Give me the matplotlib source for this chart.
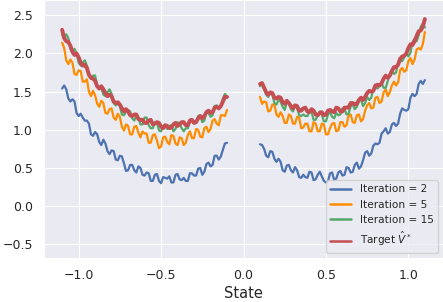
import numpy as np
import matplotlib
matplotlib.use("Agg")
import matplotlib.pyplot as plt
import seaborn as sns

sns.set_style("darkgrid")

# states (two disjoint intervals)
x_left = np.linspace(-1.1, -0.1, 81)
x_right = np.linspace(0.1, 1.1, 81)

# values (noisy curves)
it2_left = [1.54, 1.58, 1.53, 1.41, 1.37, 1.40, 1.37, 1.22, 1.18, 1.21, 1.16, 1.12, 1.12, 1.08,
            0.94, 0.92, 0.97, 0.94, 0.84, 0.80, 0.87, 0.82, 0.72, 0.68, 0.73, 0.72, 0.61, 0.60,
            0.66, 0.65, 0.56, 0.46, 0.47, 0.54, 0.54, 0.47, 0.44, 0.52, 0.50, 0.41, 0.40, 0.44,
            0.43, 0.33, 0.33, 0.41, 0.42, 0.33, 0.30, 0.38, 0.37, 0.36, 0.39, 0.31, 0.31, 0.41,
            0.42, 0.35, 0.34, 0.37, 0.33, 0.33, 0.43, 0.43, 0.40, 0.40, 0.49, 0.50, 0.41, 0.45,
            0.55, 0.57, 0.52, 0.54, 0.66, 0.66, 0.61, 0.65, 0.74, 0.82, 0.83]
it2_right = [0.81, 0.80, 0.75, 0.66, 0.64, 0.72, 0.71, 0.62, 0.58, 0.62, 0.58, 0.47, 0.45, 0.53,
             0.54, 0.47, 0.44, 0.51, 0.47, 0.38, 0.37, 0.41, 0.38, 0.37, 0.45, 0.44, 0.34, 0.35,
             0.41, 0.45, 0.39, 0.33, 0.31, 0.33, 0.43, 0.44, 0.34, 0.36, 0.44, 0.46, 0.40, 0.41,
             0.51, 0.50, 0.44, 0.45, 0.54, 0.57, 0.49, 0.52, 0.60, 0.70, 0.72, 0.66, 0.69, 0.79,
             0.82, 0.81, 0.83, 0.95, 0.98, 1.02, 0.95, 0.97, 1.07, 1.09, 1.05, 1.08, 1.21, 1.28,
             1.26, 1.25, 1.27, 1.42, 1.47, 1.44, 1.47, 1.60, 1.64, 1.60, 1.65]

it5_left = [2.14, 2.07, 1.91, 1.86, 1.92, 1.88, 1.73, 1.72, 1.78, 1.77, 1.63, 1.63, 1.66, 1.50,
            1.44, 1.51, 1.45, 1.34, 1.30, 1.38, 1.35, 1.22, 1.21, 1.27, 1.28, 1.16, 1.13, 1.21,
            1.17, 1.04, 0.99, 1.07, 1.05, 0.94, 0.94, 1.04, 1.05, 0.96, 0.90, 0.98, 0.95, 0.95,
            0.83, 0.83, 0.93, 0.94, 0.86, 0.76, 0.78, 0.90, 0.91, 0.84, 0.81, 0.93, 0.92, 0.82,
            0.80, 0.90, 0.89, 0.80, 0.83, 0.93, 0.98, 0.89, 0.89, 1.01, 1.00, 0.91, 0.90, 1.02,
            1.04, 0.97, 1.01, 1.12, 1.14, 1.08, 1.06, 1.19, 1.19, 1.18, 1.26]
it5_right = [1.43, 1.34, 1.37, 1.36, 1.24, 1.25, 1.33, 1.33, 1.20, 1.17, 1.23, 1.18, 1.09, 1.09,
             1.20, 1.18, 1.08, 1.08, 1.17, 1.16, 1.02, 1.03, 1.08, 1.08, 0.98, 0.98, 1.10, 1.08,
             0.98, 0.98, 1.08, 1.07, 0.94, 0.94, 1.02, 1.08, 1.09, 0.98, 0.99, 1.10, 1.10, 1.04,
             1.06, 1.19, 1.20, 1.10, 1.09, 1.19, 1.20, 1.11, 1.14, 1.25, 1.32, 1.35, 1.28, 1.29,
             1.42, 1.43, 1.35, 1.37, 1.49, 1.53, 1.44, 1.49, 1.58, 1.63, 1.58, 1.62, 1.78, 1.81,
             1.76, 1.78, 1.90, 1.94, 1.86, 1.92, 2.05, 2.07, 2.05, 2.12, 2.28]

it15_left = [2.24, 2.22, 2.25, 2.20, 2.07, 2.01, 2.06, 2.00, 1.88, 1.84, 1.88, 1.91, 1.84, 1.72,
             1.67, 1.71, 1.71, 1.58, 1.56, 1.55, 1.46, 1.44, 1.49, 1.53, 1.47, 1.35, 1.32, 1.34,
             1.31, 1.20, 1.19, 1.24, 1.26, 1.24, 1.15, 1.12, 1.19, 1.16, 1.07, 1.07, 1.16, 1.16,
             1.06, 1.02, 1.02, 1.10, 1.10, 0.99, 0.98, 1.05, 1.06, 1.01, 1.05, 1.06, 0.98, 1.01,
             1.10, 1.08, 1.02, 0.98, 1.02, 1.02, 1.13, 1.14, 1.08, 1.10, 1.18, 1.19, 1.10, 1.12,
             1.23, 1.22, 1.17, 1.19, 1.31, 1.32, 1.28, 1.30, 1.41, 1.47, 1.43]
it15_right = [1.57, 1.62, 1.56, 1.46, 1.43, 1.48, 1.47, 1.35, 1.33, 1.39, 1.37, 1.30, 1.26, 1.36,
              1.35, 1.27, 1.24, 1.31, 1.29, 1.19, 1.18, 1.20, 1.18, 1.18, 1.25, 1.24, 1.13, 1.13,
              1.19, 1.24, 1.20, 1.11, 1.11, 1.20, 1.23, 1.17, 1.15, 1.22, 1.19, 1.20, 1.28, 1.27,
              1.20, 1.21, 1.31, 1.33, 1.27, 1.30, 1.38, 1.40, 1.31, 1.35, 1.43, 1.39, 1.42, 1.54,
              1.56, 1.54, 1.58, 1.61, 1.55, 1.55, 1.64, 1.73, 1.78, 1.73, 1.75, 1.88, 1.90, 1.90,
              1.95, 2.00, 1.96, 2.01, 2.15, 2.19, 2.16, 2.24, 2.35, 2.39, 2.34]

target_left = [2.31, 2.20, 2.16, 2.15, 2.10, 2.02, 1.98, 2.00, 1.95, 1.88, 1.84, 1.85, 1.81, 1.72,
               1.68, 1.67, 1.64, 1.57, 1.54, 1.57, 1.53, 1.48, 1.44, 1.46, 1.44, 1.37, 1.35, 1.36,
               1.33, 1.28, 1.24, 1.27, 1.24, 1.19, 1.18, 1.20, 1.20, 1.14, 1.13, 1.13, 1.09, 1.09,
               1.12, 1.13, 1.07, 1.08, 1.10, 1.09, 1.04, 1.02, 1.06, 1.05, 1.02, 1.03, 1.07, 1.09,
               1.05, 1.07, 1.10, 1.10, 1.06, 1.06, 1.12, 1.13, 1.09, 1.10, 1.15, 1.18, 1.15, 1.18,
               1.23, 1.25, 1.22, 1.23, 1.29, 1.30, 1.28, 1.31, 1.37, 1.43, 1.43]
target_right = [1.60, 1.61, 1.55, 1.49, 1.46, 1.49, 1.48, 1.42, 1.41, 1.43, 1.42, 1.36, 1.34, 1.38,
                1.35, 1.31, 1.28, 1.32, 1.31, 1.25, 1.25, 1.28, 1.29, 1.24, 1.23, 1.27, 1.25, 1.20,
                1.19, 1.22, 1.23, 1.19, 1.20, 1.25, 1.26, 1.24, 1.23, 1.29, 1.28, 1.24, 1.24, 1.29,
                1.29, 1.29, 1.35, 1.35, 1.33, 1.34, 1.39, 1.42, 1.39, 1.43, 1.48, 1.51, 1.50, 1.51,
                1.58, 1.59, 1.58, 1.61, 1.67, 1.71, 1.68, 1.71, 1.77, 1.82, 1.82, 1.85, 1.93, 1.96,
                1.97, 2.00, 2.07, 2.12, 2.11, 2.16, 2.23, 2.29, 2.30, 2.35, 2.45]

fig = plt.figure(figsize=(4.43, 3.02), dpi=100)
ax = fig.add_axes([44 / 443, 44 / 302, 399 / 443, 258 / 302])

ax.plot(x_left, it2_left, color="#4C72B0", lw=1.6, label="Iteration = 2")
ax.plot(x_right, it2_right, color="#4C72B0", lw=1.6)
ax.plot(x_left, it5_left, color="darkorange", lw=1.6, label="Iteration = 5")
ax.plot(x_right, it5_right, color="darkorange", lw=1.6)
ax.plot(x_left, it15_left, color="#55A868", lw=1.6, label="Iteration = 15")
ax.plot(x_right, it15_right, color="#55A868", lw=1.6)
ax.plot(x_left, target_left, color="#C44E52", lw=2.8, label=r"Target $\hat{V}^*$")
ax.plot(x_right, target_right, color="#C44E52", lw=2.8)

ax.set_xlim(-1.21, 1.21)
ax.set_ylim(-0.68, 2.70)
ax.set_xticks([-1.0, -0.5, 0.0, 0.5, 1.0])
ax.set_yticks([-0.5, 0.0, 0.5, 1.0, 1.5, 2.0, 2.5])
ax.tick_params(labelsize=9, pad=8, length=0, labelcolor=".15")
ax.set_xlabel("State", fontsize=10.5, color=".15", labelpad=3)

leg = ax.legend(loc="lower right", fontsize=7.6, frameon=True, facecolor="#EAEAF2",
                framealpha=0.8, edgecolor="0.8")
for h in leg.get_lines():
    h.set_linewidth(1.8)

fig.savefig("out.png", dpi=100)
